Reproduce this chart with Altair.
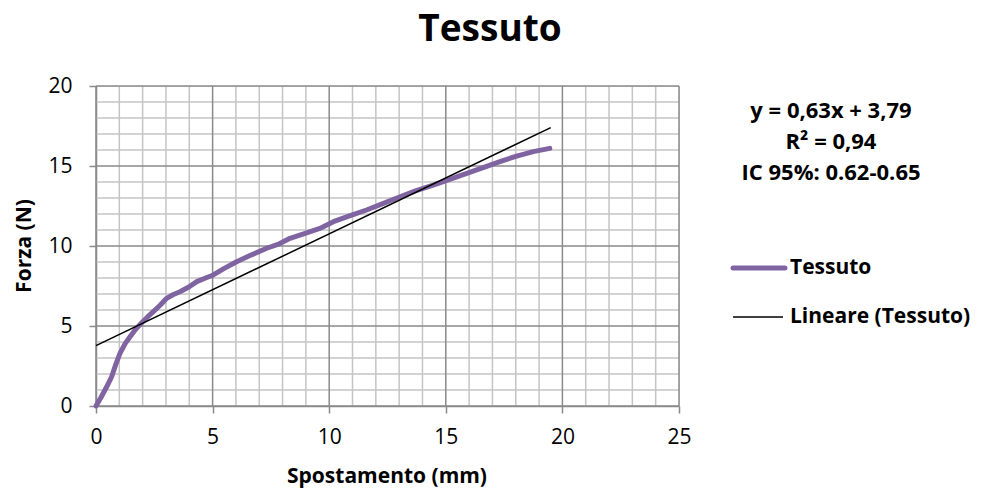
import altair as alt
import pandas as pd

# Data
spost = [0, 0.2, 0.46, 0.67, 0.85, 1.03, 1.25, 1.46, 1.7, 1.96, 2.2, 2.46, 2.75, 3.03, 3.3,
         3.6, 4.0, 4.32, 4.7, 5.03, 5.5, 6.03, 6.6, 7.32, 7.8, 8.32, 9.0, 9.6, 10.18, 10.9,
         11.6, 12.3, 13.04, 13.7, 14.46, 15.2, 15.9, 16.6, 17.32, 18.0, 18.75, 19.46]
forza = [0, 0.5, 1.2, 1.83, 2.6, 3.3, 3.9, 4.33, 4.8, 5.2, 5.55, 5.9, 6.3, 6.73, 6.95,
         7.14, 7.45, 7.77, 8.0, 8.19, 8.6, 9.02, 9.4, 9.86, 10.1, 10.48, 10.8, 11.1, 11.52, 11.9,
         12.25, 12.65, 13.08, 13.45, 13.8, 14.18, 14.54, 14.9, 15.27, 15.6, 15.9, 16.1]
trend_x = [0, 19.5]
trend_y = [3.77, 17.4]
x_grid = list(range(0, 26))
y_grid = list(range(0, 21))
x_labels = [0, 5, 10, 15, 20, 25]
y_labels = [0, 5, 10, 15, 20]
annot_lines = ["y = 0,63x + 3,79", "R² = 0,94", "IC 95%: 0.62-0.65"]
legend_labels = ["Tessuto", "Lineare (Tessuto)"]
title_text = "Tessuto"
x_title = "Spostamento (mm)"
y_title = "Forza (N)"

FONT = "Open Sans"
PURPLE = "#8064A2"
MINOR = "#c4c4c4"
MAJOR = "#8a8a8a"

W, H = 583, 320

xscale = alt.Scale(domain=[0, 25], nice=False, zero=False)
yscale = alt.Scale(domain=[0, 20], nice=False, zero=False)

xaxis = alt.Axis(values=x_labels, grid=False, tickColor=MAJOR, tickSize=7, tickWidth=1.5,
                 domainColor=MAJOR, domainWidth=1.5, labelOverlap=False, labelFlush=False,
                 labelFont=FONT, labelFontSize=21, labelColor="#000000", labelPadding=13,
                 title=None)
yaxis = alt.Axis(values=y_labels, grid=False, tickColor=MAJOR, tickSize=7, tickWidth=1.5,
                 domainColor=MAJOR, domainWidth=1.5, labelOverlap=False, labelFlush=False,
                 labelFont=FONT, labelFontSize=21, labelColor="#000000", labelPadding=17,
                 title=None)

xgrid_df = pd.DataFrame({"v": x_grid, "major": [v % 5 == 0 for v in x_grid]})
ygrid_df = pd.DataFrame({"v": y_grid, "major": [v % 5 == 0 for v in y_grid]})

# first layers carry the axes
gx_minor = alt.Chart(xgrid_df).transform_filter("!datum.major").mark_rule(
    color=MINOR, strokeWidth=1.5).encode(
    x=alt.X("v:Q", scale=xscale, axis=xaxis),
    y=alt.value(0), y2=alt.value(H))
gy_minor = alt.Chart(ygrid_df).transform_filter("!datum.major").mark_rule(
    color=MINOR, strokeWidth=1.5).encode(
    y=alt.Y("v:Q", scale=yscale, axis=yaxis),
    x=alt.value(0), x2=alt.value(W))
gx_major = alt.Chart(xgrid_df).transform_filter("datum.major").mark_rule(
    color=MAJOR, strokeWidth=1.5).encode(
    x=alt.X("v:Q", scale=xscale),
    y=alt.value(0), y2=alt.value(H))
gy_major = alt.Chart(ygrid_df).transform_filter("datum.major").mark_rule(
    color=MAJOR, strokeWidth=1.5).encode(
    y=alt.Y("v:Q", scale=yscale),
    x=alt.value(0), x2=alt.value(W))

curve = alt.Chart(pd.DataFrame({"x": spost, "y": forza})).mark_line(
    color=PURPLE, strokeWidth=5, strokeCap="round", strokeJoin="round").encode(
    x=alt.X("x:Q", scale=xscale),
    y=alt.Y("y:Q", scale=yscale),
)
trend = alt.Chart(pd.DataFrame({"x": trend_x, "y": trend_y})).mark_line(
    color="#000000", strokeWidth=1.5).encode(
    x=alt.X("x:Q", scale=xscale),
    y=alt.Y("y:Q", scale=yscale),
)

def text_layer(t, x, y, size, align="center", baseline="middle", angle=0):
    return alt.Chart(pd.DataFrame({"t": [t]})).mark_text(
        font=FONT, fontSize=size, fontWeight="bold", align=align, baseline=baseline,
        angle=angle, color="#000000").encode(text="t:N", x=alt.value(x), y=alt.value(y))

annot_layers = [text_layer(t, 735, 25 + i * 31, 22) for i, t in enumerate(annot_lines)]

leg_sym1 = alt.Chart(pd.DataFrame({"a": [0]})).mark_rule(
    color=PURPLE, strokeWidth=5, strokeCap="round").encode(
    x=alt.value(637), x2=alt.value(689), y=alt.value(182))
leg_sym2 = alt.Chart(pd.DataFrame({"a": [0]})).mark_rule(
    color="#000000", strokeWidth=1.5).encode(
    x=alt.value(637), x2=alt.value(687), y=alt.value(231))
leg_txt = [text_layer(t, 694, 182 + i * 49, 21, align="left") for i, t in enumerate(legend_labels)]

title = text_layer(title_text, 394, -45, 37, baseline="alphabetic")
xtitle = text_layer(x_title, 291, 397, 21, baseline="alphabetic")
ytitle = text_layer(y_title, -71, 160, 21, angle=270)

chart = alt.layer(
    gx_minor, gy_minor, gx_major, gy_major, curve, trend,
    *annot_layers, leg_sym1, leg_sym2, *leg_txt, title, xtitle, ytitle
).properties(
    width=W, height=H,
    autosize=alt.AutoSizeParams(type="none"),
    padding={"left": 88, "top": 78, "right": 297, "bottom": 83},
).configure_view(stroke=None).configure(background="white")

chart.save("out.html", embed_options={"renderer": "svg", "actions": False})
